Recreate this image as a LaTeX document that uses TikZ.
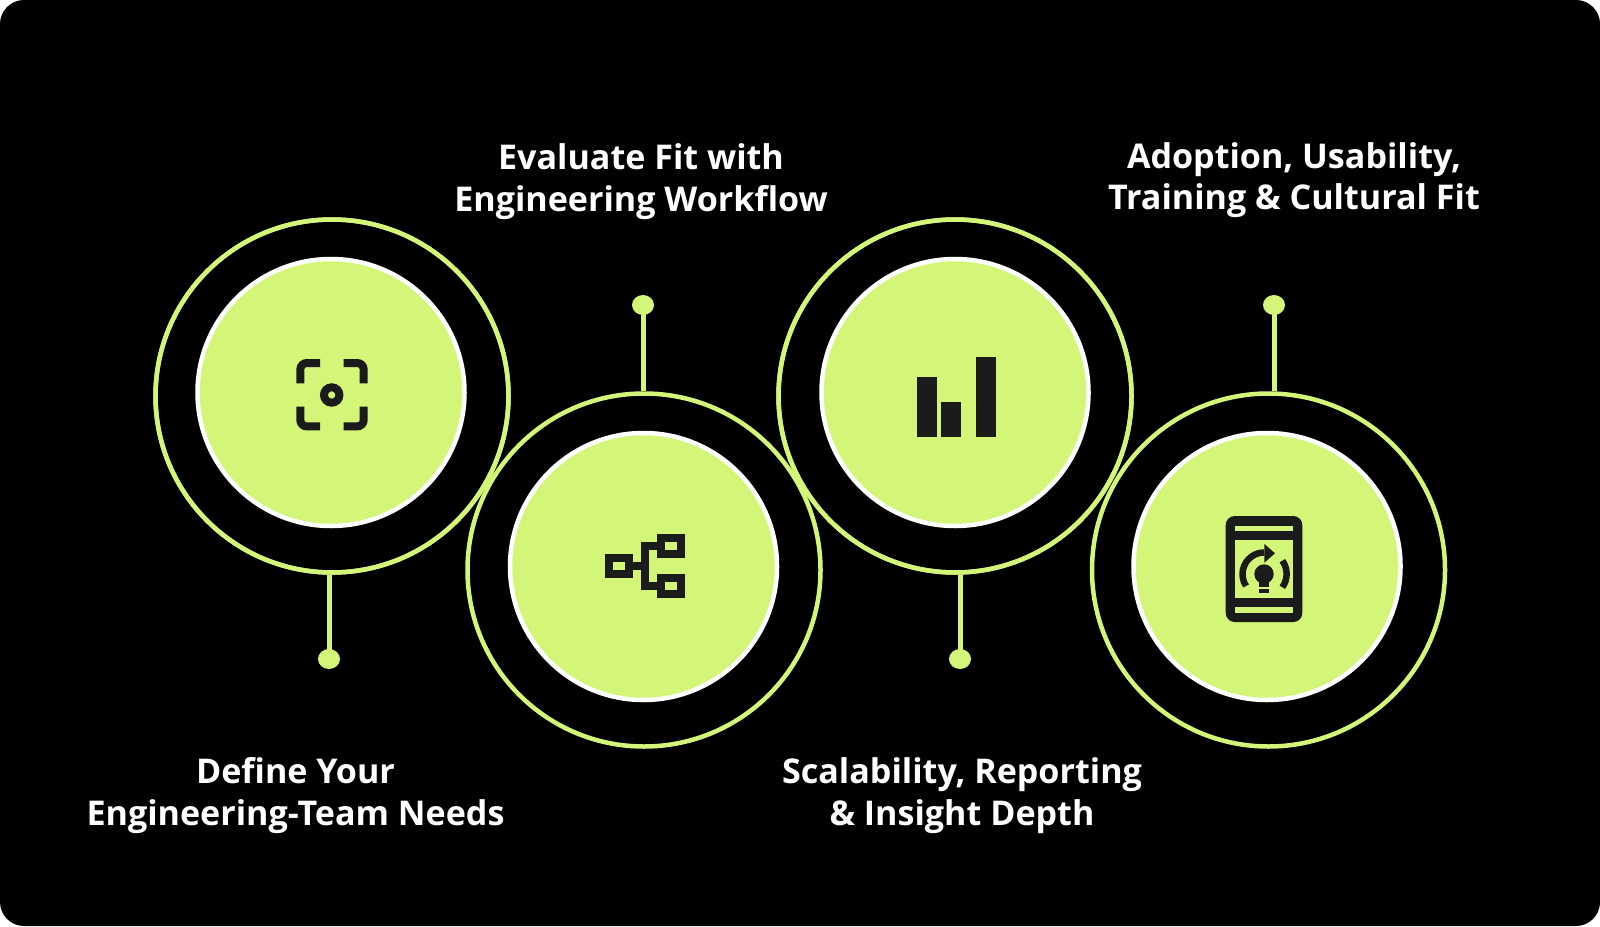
\documentclass[tikz,border=0pt]{standalone}
\usepackage{xcolor}
\usepackage{fontspec}
\setmainfont{Open Sans}
\usetikzlibrary{shapes.geometric}
\definecolor{limeC}{HTML}{D4F678}
\definecolor{inkC}{HTML}{1B1B1B}
\tikzset{
  ring/.style={circle,draw=limeC,line width=0.045cm,fill=black,minimum size=3.53cm,inner sep=0},
  disc/.style={circle,draw=white,line width=0.045cm,fill=limeC,minimum size=2.67cm,inner sep=0},
  tip/.style={ellipse,fill=limeC,minimum width=0.22cm,minimum height=0.2cm,inner sep=0},
  stem/.style={draw=limeC,line width=0.05cm},
  label/.style={text=white,align=center,font=\fontsize{9.7pt}{11.95pt}\selectfont\bfseries},
  icon/.style={draw=inkC,line width=0.08cm}
}
\begin{document}
\begin{tikzpicture}
    \useasboundingbox (0,0) rectangle (16,9.26);
    %PANEL
    \fill[white] (0,0) rectangle (16,9.26);
    \fill[black,rounded corners=0.24cm] (0,0) rectangle (16,9.26);
    %RINGS
    \node[ring] (ringA) at (3.32,5.30) {};
    \node[ring] (ringC) at (9.55,5.30) {};
    \node[ring] (ringB) at (6.44,3.56) {};
    \node[ring] (ringD) at (12.685,3.56) {};
    \draw[limeC,line width=0.045cm] (ringA) circle (1.765);
    \draw[limeC,line width=0.045cm] (ringC) circle (1.765);
    %DISCS
    \node[disc] (discA) at (3.31,5.335) {};
    \node[disc] (discB) at (6.435,3.595) {};
    \node[disc] (discC) at (9.55,5.335) {};
    \node[disc] (discD) at (12.67,3.595) {};
    %STEMS
    \node[tip] (tipA) at (3.29,2.67) {};
    \node[tip] (tipB) at (6.43,6.21) {};
    \node[tip] (tipC) at (9.60,2.67) {};
    \node[tip] (tipD) at (12.74,6.21) {};
    \draw[stem] (tipA.center) -- (tipA |- ringA.south);
    \draw[stem] (tipB.center) -- (tipB |- ringB.north);
    \draw[stem] (tipC.center) -- (tipC |- ringC.south);
    \draw[stem] (tipD.center) -- (tipD |- ringD.north);
    %LABELS
    \node[label,anchor=base] (textA) at (2.955,1.01) {Define Your\\Engineering-Team Needs};
    \node[label,anchor=base] (textB) at (6.41,7.15) {Evaluate Fit with\\Engineering Workflow};
    \node[label,anchor=base] (textC) at (9.62,1.01) {Scalability, Reporting\\\& Insight Depth};
    \node[label,anchor=base] (textD) at (12.94,7.16) {Adoption, Usability,\\Training \& Cultural Fit};
    %ICON A
    \draw[icon,rounded corners=0.065cm] (3.003,5.427) -- (3.003,5.63) -- (3.20,5.63);
    \draw[icon,rounded corners=0.065cm] (3.437,5.63) -- (3.637,5.63) -- (3.637,5.427);
    \draw[icon,rounded corners=0.065cm] (3.003,5.193) -- (3.003,4.996) -- (3.20,4.996);
    \draw[icon,rounded corners=0.065cm] (3.437,4.996) -- (3.637,4.996) -- (3.637,5.193);
    \draw[icon] (3.317,5.31) circle (0.077);
    %ICON B
    \draw[icon] (6.09,3.52) rectangle (6.29,3.68);
    \draw[icon] (6.61,3.72) rectangle (6.81,3.88);
    \draw[icon] (6.61,3.32) rectangle (6.81,3.48);
    \draw[icon] (6.29,3.60) -- (6.45,3.60);
    \draw[icon] (6.61,3.80) -- (6.45,3.80) -- (6.45,3.40) -- (6.61,3.40);
    %ICON C
    \fill[inkC] (9.167,4.893) rectangle (9.367,5.487);
    \fill[inkC] (9.41,4.893) rectangle (9.61,5.243);
    \fill[inkC] (9.757,4.893) rectangle (9.957,5.687);
    %ICON D
    \fill[inkC,rounded corners=0.09cm] (12.257,3.04) rectangle (13.023,4.10);
    \fill[limeC] (12.35,3.953) rectangle (12.93,4.003);
    \fill[limeC] (12.35,3.133) rectangle (12.93,3.187);
    \fill[limeC] (12.35,3.28) rectangle (12.93,3.86);
    \fill[inkC] (12.64,3.52) circle (0.097);
    \fill[inkC] (12.59,3.39) rectangle (12.69,3.45);
    \fill[inkC] (12.59,3.333) rectangle (12.69,3.37);
    \draw[inkC,line width=0.065cm] (12.46,3.40) arc[start angle=213,end angle=90,radius=0.217];
    \fill[inkC] (12.643,3.82) -- (12.75,3.727) -- (12.643,3.633) -- cycle;
    \draw[inkC,line width=0.065cm] (12.823,3.653) arc[start angle=36,end angle=-36,radius=0.226];
\end{tikzpicture}
\end{document}
